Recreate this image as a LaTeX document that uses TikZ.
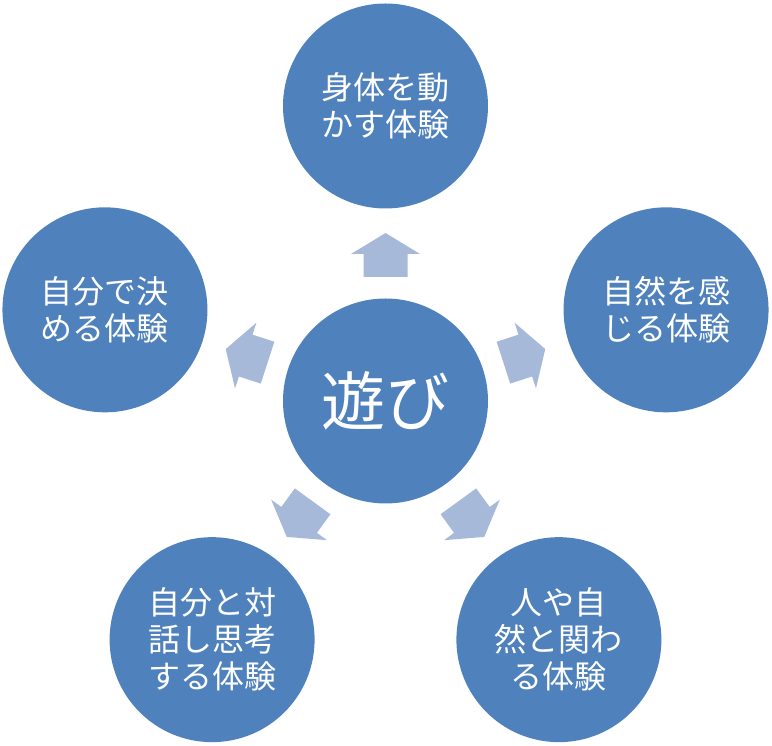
\documentclass[tikz,border=0pt]{standalone}
\usepackage{fontspec}
\newfontfamily\jp{Noto Sans CJK JP}
\definecolor{cblue}{HTML}{4F81BD}
\definecolor{ablue}{RGB}{167,185,216}
\begin{document}
\begin{tikzpicture}[x=1pt,y=1pt,
  bubble/.style={circle,fill=cblue,draw=none,minimum size=205pt,inner sep=0pt,
    text=white,align=center,font=\jp\fontsize{32}{37}\selectfont},
  hub/.style={bubble,font=\jp\fontsize{64}{70}\selectfont},
  blockarrow/.style={fill=ablue,draw=none}]
\useasboundingbox (0,0) rectangle (772,746);
\node[hub] (c) at (385.5,345) {遊び};
\node[bubble] (t)  at ([shift={(90:295)}]c.center)  {身体を動\\かす体験};
\node[bubble] (r)  at ([shift={(18:295)}]c.center)  {自然を感\\じる体験};
\node[bubble] (br) at ([shift={(-54:295)}]c.center) {人や自\\然と関わ\\る体験};
\node[bubble] (bl) at ([shift={(-126:295)}]c.center){自分と対\\話し思考\\する体験};
\node[bubble] (l)  at ([shift={(162:295)}]c.center) {自分で決\\める体験};
\foreach \a in {90,18,-54,-126,162}{
  \begin{scope}[shift={(c.center)},rotate=\a]
    \fill[blockarrow] (124,-22) -- (147,-22) -- (147,-34.5) -- (168,0)
      -- (147,34.5) -- (147,22) -- (124,22) -- cycle;
  \end{scope}
}
\end{tikzpicture}
\end{document}
